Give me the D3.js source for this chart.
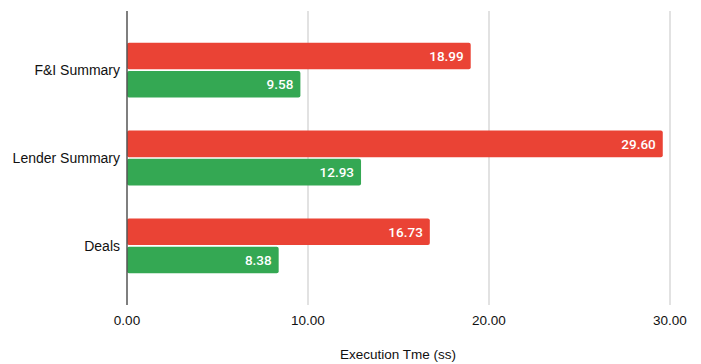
<!DOCTYPE html>
<html><head><meta charset="utf-8">
<script src="https://cdn.jsdelivr.net/npm/d3@7"></script>
<style>body{margin:0;background:#fff}</style>
</head><body>
<svg id="c" width="701" height="364"></svg>
<script>
const categories = ["F&I Summary", "Lender Summary", "Deals"];
const seriesNames = ["Before", "After"];
const seriesBefore = [18.99, 29.60, 16.73];
const seriesAfter = [9.58, 12.93, 8.38];
const tickValues = [0, 10, 20, 30];
const colors = ["#ea4335", "#34a853"];

const svg = d3.select("#c");
const x = d3.scaleLinear().domain([0, 30]).range([127, 670]);
const y = d3.scaleBand().domain(categories).range([11, 305]).paddingInner(0.375).paddingOuter(0.36);
const ys = d3.scaleBand().domain(seriesNames).range([0, y.bandwidth()]).paddingInner(0.06);

// gridlines
svg.append("g").selectAll("line").data(tickValues.slice(1)).join("line")
  .attr("x1", d => x(d)).attr("x2", d => x(d)).attr("y1", 11).attr("y2", 305)
  .attr("stroke", "#d9d9d9").attr("stroke-width", 1.5);

const data = categories.map((c, i) => ({c, vals: [seriesBefore[i], seriesAfter[i]]}));
const g = svg.append("g");
data.forEach(d => {
  d.vals.forEach((v, j) => {
    const yy = y(d.c) + ys(seriesNames[j]);
    g.append("rect").attr("x", x(0)).attr("y", yy)
      .attr("width", x(v) - x(0)).attr("height", ys.bandwidth())
      .attr("rx", 2).attr("fill", colors[j]);
    g.append("text").attr("x", x(v) - 7).attr("y", yy + ys.bandwidth() / 2)
      .attr("dy", "0.36em").attr("text-anchor", "end")
      .attr("font-family", "Roboto, 'Liberation Sans', sans-serif").attr("font-size", 13.5)
      .attr("font-weight", 500)
      .attr("fill", "#fff").text(v.toFixed(2));
  });
});

// left axis line
svg.append("line").attr("x1", x(0)).attr("x2", x(0)).attr("y1", 11).attr("y2", 305)
  .attr("stroke", "#555").attr("stroke-width", 1.5);

// category labels
svg.append("g").selectAll("text").data(categories).join("text")
  .attr("x", 120).attr("y", d => y(d) + y.bandwidth() / 2).attr("dy", "0.36em")
  .attr("text-anchor", "end").attr("font-family", "'Liberation Sans', Arial, sans-serif")
  .attr("font-size", 14).attr("fill", "#111").text(d => d);

// x tick labels
svg.append("g").selectAll("text").data(tickValues).join("text")
  .attr("x", d => x(d)).attr("y", 325).attr("text-anchor", "middle")
  .attr("font-family", "'Liberation Sans', Arial, sans-serif").attr("font-size", 13.5)
  .attr("fill", "#111").text(d => d.toFixed(2));

svg.append("text").attr("x", 398).attr("y", 359).attr("text-anchor", "middle")
  .attr("font-family", "'Liberation Sans', Arial, sans-serif").attr("font-size", 13.5)
  .attr("fill", "#111").text("Execution Tme (ss)");
</script>
</body></html>
